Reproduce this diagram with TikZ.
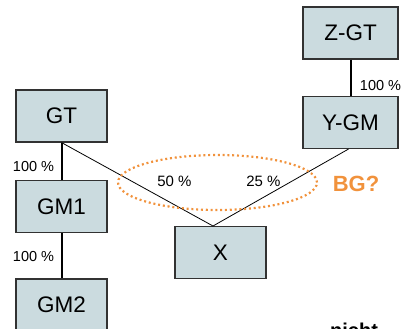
\documentclass[tikz,border=0pt]{standalone}
\usepackage{fontspec}
\setmainfont{Liberation Sans}
\usetikzlibrary{shapes.geometric}
\definecolor{boxfill}{RGB}{203,219,223}
\definecolor{boxline}{RGB}{50,50,50}
\definecolor{bgorange}{RGB}{241,146,60}
\begin{document}
\begin{tikzpicture}[x=1pt,y=-1pt,
  box/.style={draw=boxline, line width=1.1pt, fill=boxfill, inner sep=0pt,
    minimum width=91pt, minimum height=52pt, font=\fontsize{22.5}{22.5}\selectfont},
  widebox/.style={box, minimum width=95pt},
  pct/.style={inner sep=0pt, font=\fontsize{14.5}{14.5}\selectfont},
  share/.style={inner sep=0pt, font=\fontsize{15}{15}\selectfont},
  strong/.style={line width=2pt},
  weak/.style={line width=0.8pt},
  group/.style={draw=bgorange, line width=2.2pt, dash pattern=on 2pt off 2.8pt}]
  \useasboundingbox (0,0) rectangle (405,329);
  \clip (0,0) rectangle (405,329);

  % holding structure
  \node[box] (gt)  at (61.5,116)   {GT};
  \node[box] (gm1) at (61.5,206.5) {GM1};
  \node[box] (gm2) at (61.5,305)   {GM2};
  \node[box] (x)   at (220.5,252.5) {X};
  \node[widebox] (zgt) at (350.5,33)  {Z-GT};
  \node[widebox] (ygm) at (350.5,122.5) {Y-GM};

  \coordinate (apex) at (213,226);

  \draw[strong] (gt.south) -- (gm1.north);
  \draw[strong] (gm1.south) -- (gm2.north);
  \draw[strong] (zgt.south) -- (ygm.north);
  \draw[weak] (gt.south) -- (apex) -- ([xshift=-2pt]ygm.south);

  % shares
  \node[pct] (p1) at (33.5,167) {100 \%};
  \node[pct] (p2) at (33.5,257) {100 \%};
  \node[pct] (p3) at (380.5,86) {100 \%};
  \node[share] (s1) at (174.5,181) {50 \%};
  \node[share] (s2) at (263.5,181) {25 \%};

  % possible group
  \node[group, ellipse, minimum width=199pt, minimum height=55pt, inner sep=0pt]
    (bg) at (217.5,182.5) {};
  \node[inner sep=0pt, text=bgorange, font=\bfseries\fontsize{22}{22}\selectfont]
    (bglabel) at (356,183.5) {BG?};

  % only the top of this line lies inside the page
  \node[anchor=base west, inner sep=0pt, font=\bfseries\fontsize{20}{20}\selectfont]
    (note) at (330,337) {nicht};
\end{tikzpicture}
\end{document}
